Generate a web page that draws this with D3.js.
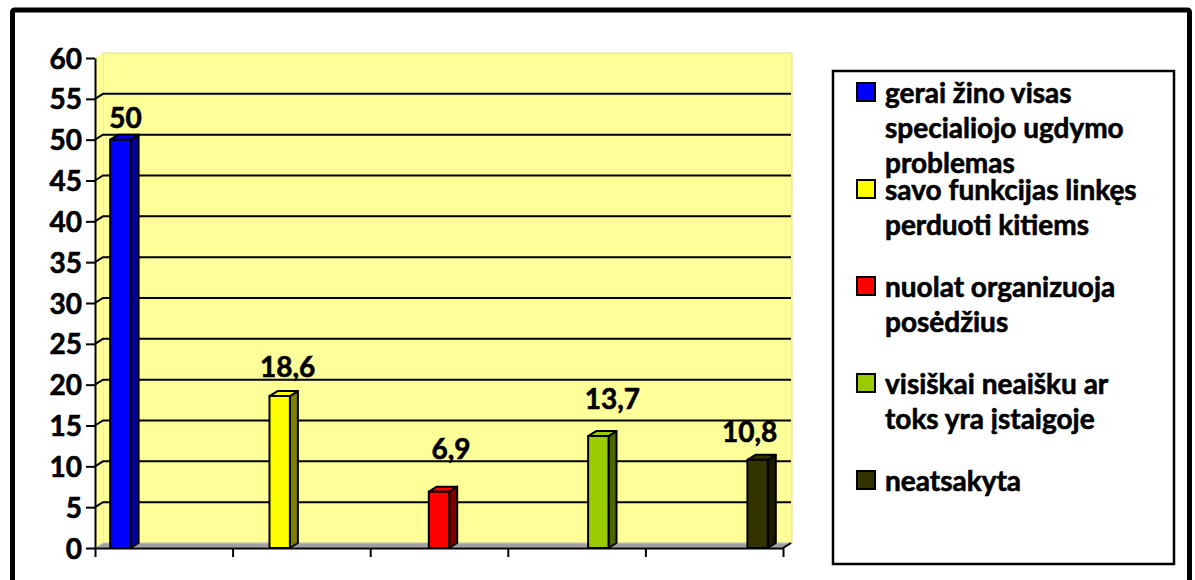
<!DOCTYPE html>
<html>
<head>
<meta charset="utf-8">
<script src="https://cdn.jsdelivr.net/npm/d3@7"></script>
<style>
  html, body { margin: 0; padding: 0; background: #fff; }
  svg { display: block; }
  text { font-family: Lato, "Open Sans", sans-serif; font-weight: bold; fill: #000; stroke: #000; stroke-width: 0.6px; }
</style>
</head>
<body>
<script>
// Series (one per category, drawn as a diagonal cluster)
const seriesNames = [
  "gerai žino visas specialiojo ugdymo problemas",
  "savo funkcijas linkęs perduoti kitiems",
  "nuolat organizuoja posėdžius",
  "visiškai neaišku ar toks yra įstaigoje",
  "neatsakyta"
];
const seriesValues = [50, 18.6, 6.9, 13.7, 10.8];
const valueLabels = ["50", "18,6", "6,9", "13,7", "10,8"];
const categories = ["1", "2", "3", "4", "5"];
const yTicks = [0, 5, 10, 15, 20, 25, 30, 35, 40, 45, 50, 55, 60];

// Colours: front face, side face
const frontColors = ["#0000FF", "#FFFF00", "#FF0000", "#99CC00", "#333300"];
const sideColors  = ["#000099", "#808000", "#800000", "#4C6600", "#1A1A00"];

const W = 1195, H = 580;
const svg = d3.select("body").append("svg").attr("width", W).attr("height", H);

// Outer frame
svg.append("rect")
  .attr("x", 12.5).attr("y", 10).attr("width", 1177).attr("height", 620)
  .attr("rx", 2)
  .attr("fill", "#fff").attr("stroke", "#000").attr("stroke-width", 5);

// Plot geometry
const x0L = 95, x0R = 783;
const yTop = 58, yBot = 548;
const dx = 8, dy = -5;   // depth offset of the 3D wall

const y = d3.scaleLinear().domain([0, 60]).range([yBot, yTop]);
const xCat = d3.scaleBand().domain(categories).range([x0L, x0R]).paddingInner(0).paddingOuter(0);
const xSer = d3.scaleBand().domain(d3.range(seriesNames.length)).range([0, xCat.bandwidth()])
  .paddingInner(0.06).paddingOuter(0.7);
const xEdge = d3.scaleLinear().domain([0, categories.length]).range([x0L, x0R]);

const g = svg.append("g");

// Back wall
g.append("rect")
  .attr("x", x0L + dx).attr("y", y(60) + dy)
  .attr("width", x0R - x0L + 1).attr("height", y(0) - y(60))
  .attr("fill", "#FFFF99").attr("stroke", "#E0E080").attr("stroke-width", 1);
// Side wall
g.append("polygon")
  .attr("points", [[x0L, y(60)], [x0L + dx, y(60) + dy], [x0L + dx, y(0) + dy], [x0L, y(0)]].join(" "))
  .attr("fill", "#FFFF99");
// Floor
g.append("polygon")
  .attr("points", [[x0L, y(0)], [x0L + dx, y(0) + dy], [x0R + dx + 1, y(0) + dy], [x0R + 1, y(0)]].join(" "))
  .attr("fill", "#A0A0A0").attr("stroke", "#C8C8C8").attr("stroke-width", 1);

// Gridlines (run along the side wall, then across the back wall)
g.append("g").selectAll("polyline")
  .data(yTicks.filter(v => v > 0 && v < 60))
  .join("polyline")
  .attr("points", v => [[x0L, y(v)], [x0L + dx, y(v) + dy], [x0R + dx, y(v) + dy]].join(" "))
  .attr("fill", "none").attr("stroke", "#000").attr("stroke-width", 2);

// Axes
const yAxis = d3.axisLeft(y).tickValues(yTicks).tickSize(9).tickSizeOuter(0).tickPadding(4)
  .tickFormat(d => d);
const yAx = g.append("g").attr("transform", `translate(${x0L},0)`).call(yAxis);
yAx.select(".domain").attr("stroke", "#000").attr("stroke-width", 2);
yAx.selectAll(".tick line").attr("stroke", "#000").attr("stroke-width", 2);
yAx.selectAll(".tick text")
  .attr("font-family", "Lato, sans-serif").attr("font-weight", "bold")
  .attr("font-size", 28).attr("dy", "0.36em").attr("fill", "#000")
  .attr("stroke", "#000").attr("stroke-width", 0.6);

const xAxis = d3.axisBottom(xEdge).tickValues(d3.range(categories.length + 1))
  .tickSize(9).tickSizeOuter(0).tickFormat("");
const xAx = g.append("g").attr("transform", `translate(0,${yBot})`).call(xAxis);
xAx.select(".domain").attr("stroke", "#000").attr("stroke-width", 2);
xAx.selectAll(".tick line").attr("stroke", "#000").attr("stroke-width", 2);
g.append("line")
  .attr("x1", x0R).attr("y1", yBot).attr("x2", x0R + dx).attr("y2", yBot + dy)
  .attr("stroke", "#000").attr("stroke-width", 2);

// Bars: each series sits in its own category
const bars = seriesValues.map((v, i) => {
  const xf = xCat(categories[i]) + xSer(i);
  return { i, v, xf, w: xSer.bandwidth(), yt: y(v), yb: y(0) };
});

const barG = g.append("g").attr("stroke", "#000").attr("stroke-width", 2).attr("stroke-linejoin", "round");
bars.forEach(b => {
  const bg = barG.append("g");
  bg.append("polygon")
    .attr("points", [[b.xf + b.w, b.yt], [b.xf + b.w + dx, b.yt + dy], [b.xf + b.w + dx, b.yb + dy], [b.xf + b.w, b.yb]].join(" "))
    .attr("fill", sideColors[b.i]);
  bg.append("polygon")
    .attr("points", [[b.xf, b.yt], [b.xf + dx, b.yt + dy], [b.xf + b.w + dx, b.yt + dy], [b.xf + b.w, b.yt]].join(" "))
    .attr("fill", frontColors[b.i]);
  bg.append("rect")
    .attr("x", b.xf).attr("y", b.yt).attr("width", b.w).attr("height", b.yb - b.yt)
    .attr("fill", frontColors[b.i]);
});

// Value labels above the bars
const labelShift = [[5, 12], [8, 19], [12, 33], [14, 27], [-8, 18]];
g.append("g").selectAll("text")
  .data(bars)
  .join("text")
  .attr("x", b => b.xf + b.w / 2 + labelShift[b.i][0])
  .attr("y", b => b.yt - labelShift[b.i][1])
  .attr("text-anchor", "middle")
  .attr("font-size", 28)
  .text(b => valueLabels[b.i]);

// Legend
const lg = svg.append("g");
lg.append("rect")
  .attr("x", 833).attr("y", 71).attr("width", 341).attr("height", 493)
  .attr("fill", "#fff").attr("stroke", "#000").attr("stroke-width", 2.5)
  .style("stroke-width", "2.5px");

const legendFont = 28, lineGap = 35, entryGap = 97, wrapWidth = 265;
const firstBaseline = 103;

function wrapWords(textSel, str) {
  const words = str.split(" ");
  const lines = [];
  let cur = "";
  words.forEach(w => {
    const trial = cur ? cur + " " + w : w;
    textSel.text(trial);
    if (cur && textSel.node().getComputedTextLength() > wrapWidth) {
      lines.push(cur);
      cur = w;
    } else {
      cur = trial;
    }
  });
  lines.push(cur);
  textSel.text(null);
  return lines;
}

seriesNames.forEach((name, i) => {
  const base = firstBaseline + i * entryGap;
  lg.append("rect")
    .attr("x", 857).attr("y", base - 20).attr("width", 18).attr("height", 18)
    .attr("fill", frontColors[i]).attr("stroke", "#000").attr("stroke-width", 2);
  const t = lg.append("text").attr("x", 885).attr("y", base).attr("font-size", legendFont);
  const lines = wrapWords(t, name);
  lines.forEach((ln, k) => {
    t.append("tspan").attr("x", 885).attr("y", base + k * lineGap).text(ln);
  });
});
</script>
</body>
</html>
